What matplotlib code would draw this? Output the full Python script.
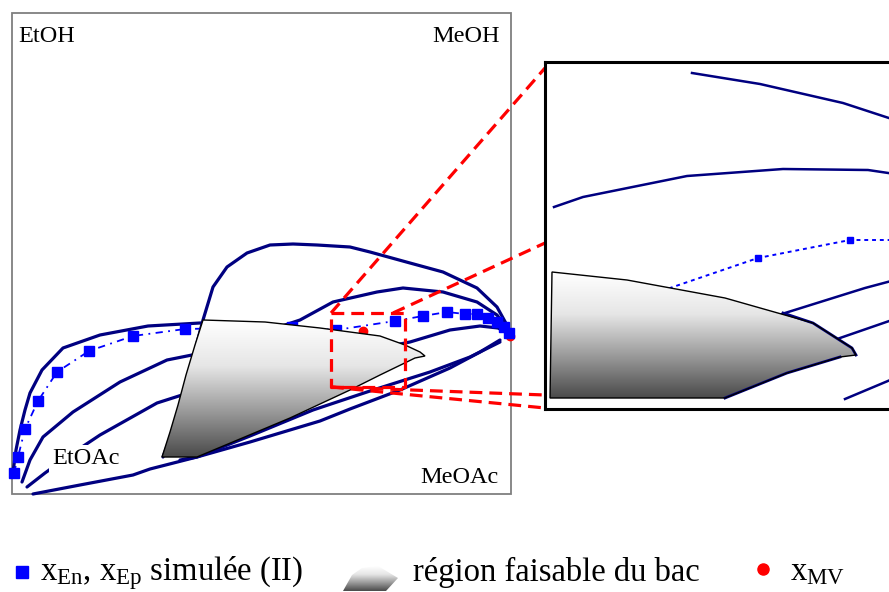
import numpy as np
import matplotlib
matplotlib.use("Agg")
import matplotlib.pyplot as plt
from matplotlib.patches import Polygon, Rectangle
from matplotlib.colors import LinearSegmentedColormap

plt.rcParams['font.family'] = ['Liberation Serif', 'DejaVu Serif']
plt.rcParams['mathtext.fontset'] = 'custom'
plt.rcParams['mathtext.rm'] = 'Liberation Serif'
plt.rcParams['mathtext.it'] = 'Liberation Serif'

# ---------------- data (drawing units) ----------------
arch_x = [163, 175, 183, 192, 197, 203, 213, 227, 247, 270, 293, 317, 350, 370, 410, 443, 477, 497, 508, 511]
arch_y = [457, 425, 397, 365, 343, 320, 287, 267, 253, 245, 244, 245, 247, 252, 263, 272, 288, 307, 327, 334]

curveA_x = [13, 16, 20, 25, 30, 42, 63, 100, 148, 200, 230]
curveA_y = [472, 450, 430, 410, 393, 370, 348, 335, 326, 323, 323]

curveB_x = [22, 30, 43, 73, 120, 167, 192, 230]
curveB_y = [482, 460, 437, 412, 382, 360, 355, 345]

curveC_x = [27, 45, 70, 100, 157, 182, 220]
curveC_y = [487, 473, 455, 435, 403, 395, 383]

curveD_x = [33, 80, 133, 150, 197, 250, 290, 320, 350, 400, 450, 480, 500]
curveD_y = [494, 485, 475, 469, 457, 442, 430, 421, 409, 390, 368, 352, 340]

curveE_x = [180, 197, 250, 313, 370, 430, 470, 500]
curveE_y = [460, 457, 436, 410, 391, 372, 357, 342]

curveM_x = [270, 300, 333, 377, 403, 443, 477, 497, 508]
curveM_y = [330, 320, 302, 292, 288, 292, 302, 315, 330]

curveF_x = [395, 410, 450, 480, 498, 509]
curveF_y = [345, 342, 330, 326, 328, 334]

region_x = [162, 170, 178, 186, 195, 203, 265, 320, 380, 405, 420, 425, 415, 380, 350, 290, 197]
region_y = [457, 432, 405, 375, 345, 320, 322, 328, 336, 345, 352, 356, 358, 375, 390, 418, 457]

sim_x = [14, 18, 25, 38, 57, 89, 133, 185, 240, 292, 336, 395, 423, 447, 465, 477, 488, 497, 504, 509]
sim_y = [473, 457, 429, 401, 372, 351, 336, 329, 328, 327, 330, 321, 316, 312, 314, 314, 318, 322, 327, 333]

mv_x = [363, 510]
mv_y = [331, 336]

# inset (zoomed view) data
in_l1_x = [692, 760, 843, 895]
in_l1_y = [73, 84, 103, 120]
in_l2_x = [554, 583, 687, 783, 868, 895]
in_l2_y = [207, 197, 176, 169, 170, 174]
in_l3_x = [770, 785, 865, 895]
in_l3_y = [318, 313, 288, 280]
in_l4_x = [830, 840, 895]
in_l4_y = [342, 338, 319]
in_l5_x = [845, 895]
in_l5_y = [399, 378]
in_sim_x = [640, 670, 758, 850, 895]
in_sim_y = [300, 288, 258, 240, 240]
in_mark_x = [758, 850]
in_mark_y = [258, 240]
in_region_x = [552, 627, 725, 813, 852, 856, 840, 787, 725, 550]
in_region_y = [272, 280, 298, 323, 348, 355, 357, 373, 398, 398]
in_edge1_x = [783, 813, 852, 856]
in_edge1_y = [313, 323, 348, 355]
in_edge2_x = [840, 787, 725]
in_edge2_y = [357, 373, 398]

# zoom rectangle and connectors
zoom_x = [331, 405, 405, 331, 331]
zoom_y = [313, 313, 387, 387, 313]
conn = [((331, 313), (545, 68)), ((393, 313), (545, 243)),
        ((331, 387), (545, 395)), ((331, 387), (545, 408))]

corner_labels = ["EtOH", "MeOH", "EtOAc", "MeOAc"]
legend_labels = ["$\\mathrm{x_{En}}$, $\\mathrm{x_{Ep}}$ simulée (II)",
                 "région faisable du bac", "$\\mathrm{x_{MV}}$"]

# legend icon shape
icon_x = [343, 352, 362, 378, 398, 386]
icon_y = [591, 575, 568, 566, 578, 591]

# ---------------- drawing ----------------
W, H = 889, 592
fig = plt.figure(figsize=(W / 100, H / 100), dpi=100)
ax = fig.add_axes([0, 0, 1, 1])
ax.set_xlim(0, W)
ax.set_ylim(H, 0)
ax.axis('off')

NAVY = '#000080'
BLUE = '#0000ff'
RED = '#ff0000'
grad_cmap = LinearSegmentedColormap.from_list('g', ['#ffffff', '#e6e6e6', '#9a9a9a', '#4a4a4a'])


def gradient_fill(axis, xs, ys, z=3, lw=1.0):
    poly = Polygon(np.column_stack([xs, ys]), closed=True, facecolor='none',
                   edgecolor='black', lw=lw, zorder=z + 1)
    axis.add_patch(poly)
    grad = np.linspace(0, 1, 256).reshape(-1, 1)
    im = axis.imshow(grad, cmap=grad_cmap, aspect='auto', origin='upper',
                     extent=(min(xs), max(xs), max(ys), min(ys)), zorder=z,
                     interpolation='bilinear')
    im.set_clip_path(poly)
    return poly


# main frame
ax.add_patch(Rectangle((12, 13), 499, 481, fill=False, edgecolor='#7f7f7f', lw=1.3, zorder=1))

for xs, ys in [(arch_x, arch_y), (curveA_x, curveA_y), (curveB_x, curveB_y),
               (curveC_x, curveC_y), (curveD_x, curveD_y), (curveE_x, curveE_y),
               (curveM_x, curveM_y), (curveF_x, curveF_y)]:
    ax.plot(xs, ys, color=NAVY, lw=2.3, solid_capstyle='round', solid_joinstyle='round', zorder=2)

ax.plot(sim_x, sim_y, color=BLUE, lw=1.3, linestyle=(0, (4, 3, 1, 3)), zorder=2.2)
ax.plot(sim_x, sim_y, 's', color=BLUE, ms=7, mec=BLUE, zorder=2.3)
ax.plot(mv_x, mv_y, 'o', color=RED, ms=6, mec=RED, zorder=2.1)

gradient_fill(ax, region_x, region_y, z=3)

# corner labels
ax.text(18, 42, corner_labels[0], fontsize=17.5, va='baseline', ha='left', zorder=5)
ax.text(500, 42, corner_labels[1], fontsize=17.5, va='baseline', ha='right', zorder=5)
ax.text(52, 464, corner_labels[2], fontsize=17.5, va='baseline', ha='left', zorder=5,
        bbox=dict(facecolor='white', edgecolor='none', pad=2))
ax.text(499, 483, corner_labels[3], fontsize=17.5, va='baseline', ha='right', zorder=5)

# zoom rectangle and connectors
dash = (0, (4, 2.2))
ax.plot(zoom_x, zoom_y, color=RED, lw=2.3, linestyle=dash, zorder=6)
for (p0, p1) in conn:
    ax.plot([p0[0], p1[0]], [p0[1], p1[1]], color=RED, lw=2.3, linestyle=dash, zorder=6)

# legend
LEG_FS = 23.5
ax.plot([22], [572], 's', color=BLUE, ms=9, mec=BLUE)
ax.text(40, 580, legend_labels[0], fontsize=LEG_FS, va='baseline', ha='left')
gradient_fill(ax, icon_x, icon_y, z=3, lw=0)
ax.text(413, 581, legend_labels[1], fontsize=LEG_FS, va='baseline', ha='left')
ax.plot([763], [569], 'o', color=RED, ms=8, mec=RED)
ax.text(790, 580, legend_labels[2], fontsize=LEG_FS, va='baseline', ha='left')

# inset
L, T, R, B = 545, 62, 895, 409
axin = fig.add_axes([L / W, 1 - B / H, (R - L) / W, (B - T) / H])
axin.set_xlim(L, R)
axin.set_ylim(B, T)
axin.set_xticks([])
axin.set_yticks([])
axin.set_zorder(10)
for s in axin.spines.values():
    s.set_linewidth(2.2)
    s.set_color('black')
for xs, ys in [(in_l1_x, in_l1_y), (in_l2_x, in_l2_y), (in_l3_x, in_l3_y),
               (in_l4_x, in_l4_y), (in_l5_x, in_l5_y)]:
    axin.plot(xs, ys, color=NAVY, lw=1.8, zorder=2)
axin.plot(in_sim_x, in_sim_y, color=BLUE, lw=1.4, linestyle=(0, (2, 2)), zorder=2)
axin.plot(in_mark_x, in_mark_y, 's', color=BLUE, ms=5, mec=BLUE, zorder=2.5)
gradient_fill(axin, in_region_x, in_region_y, z=3)
axin.plot(in_edge1_x, in_edge1_y, color=NAVY, lw=2.0, zorder=3.5)
axin.plot(in_edge2_x, in_edge2_y, color=NAVY, lw=2.0, zorder=3.5)

fig.savefig('out.png', dpi=100)
